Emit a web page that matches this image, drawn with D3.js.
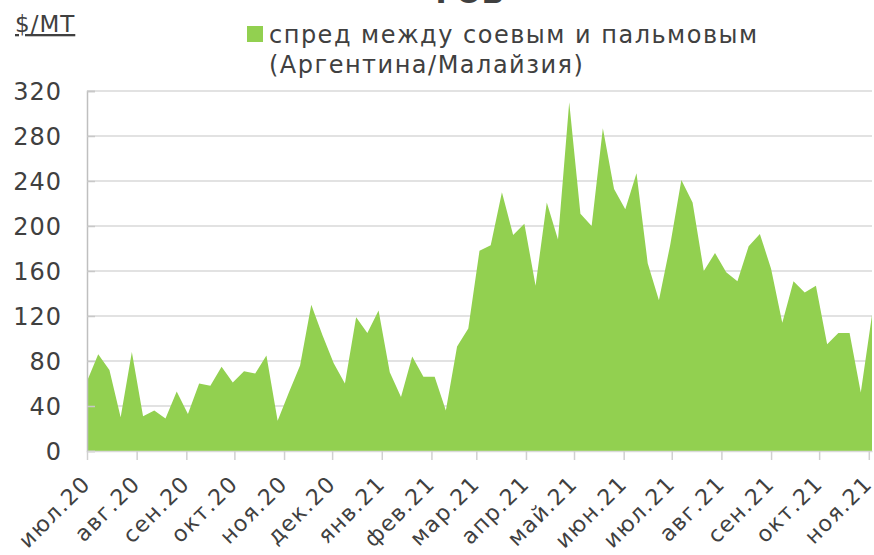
<!DOCTYPE html>
<html>
<head>
<meta charset="utf-8">
<script src="https://cdn.jsdelivr.net/npm/d3@7"></script>
<style>
  body { margin: 0; background: #fff; }
  text { font-family: 'DejaVu Sans', sans-serif; fill: #404040; }
</style>
</head>
<body>
<div id="chart"></div>
<script>
'use strict';

// weekly spread, $/MT, starting 1 Jul 2020
var startDate = '2020-07-01';
var spread = [
    62, 86, 72, 30, 88, 31, 36, 29, 53, 33,
    60, 58, 75, 61, 71, 69, 85, 27, 52, 76,
    130, 103, 78, 60, 119, 105, 125, 70, 48, 84,
    66, 66, 36, 93, 109, 178, 183, 230, 192, 202,
    147, 221, 188, 310, 211, 200, 287, 233, 215, 247,
    167, 134, 183, 241, 221, 160, 176, 159, 151, 182,
    193, 162, 114, 151, 141, 147, 95, 105, 105, 52,
    121
];
var monthLabels = ['июл.20', 'авг.20', 'сен.20', 'окт.20', 'ноя.20', 'дек.20',
    'янв.21', 'фев.21', 'мар.21', 'апр.21', 'май.21', 'июн.21', 'июл.21',
    'авг.21', 'сен.21', 'окт.21', 'ноя.21'];
var yTicks = [0, 40, 80, 120, 160, 200, 240, 280, 320];
var seriesName = ['спред между соевым и пальмовым', '(Аргентина/Малайзия)'];
var unitLabel = '$/МТ';
var titleText = 'FOB';

var width = 874,
    height = 555;

var margin = {top: 91, right: 2, bottom: 104, left: 87};

var svg = d3.select('#chart').append('svg')
    .attr('width', width)
    .attr('height', height);

var t0 = new Date(startDate + 'T00:00:00');
var data = spread.map(function(v, i) {
    return {date: d3.timeDay.offset(t0, i * 7), value: v};
});

var x = d3.scaleTime()
    .domain(d3.extent(data, function(d) { return d.date; }))
    .range([margin.left, width - margin.right]);

var y = d3.scaleLinear()
    .domain([0, 320])
    .range([height - margin.bottom, margin.top]);

// gridlines
svg.append('g')
    .selectAll('line')
    .data(yTicks)
    .enter()
    .append('line')
    .attr('x1', margin.left)
    .attr('x2', width - margin.right)
    .attr('y1', function(d) { return y(d); })
    .attr('y2', function(d) { return y(d); })
    .attr('stroke', '#d9d9d9')
    .attr('stroke-width', 1.5);

// area
var area = d3.area()
    .x(function(d) { return x(d.date); })
    .y0(y(0))
    .y1(function(d) { return y(d.value); });

svg.append('path')
    .datum(data)
    .attr('d', area)
    .attr('fill', '#92d050');

// y axis
var yAxis = svg.append('g')
    .attr('transform', 'translate(' + margin.left + ',0)')
    .call(d3.axisRight(y).tickValues(yTicks).tickSize(8).tickFormat(''));
yAxis.selectAll('line').attr('stroke', '#c8c8c8').attr('stroke-width', 1.5);
yAxis.select('.domain').attr('stroke', '#bfbfbf').attr('stroke-width', 1.5);

svg.append('g')
    .selectAll('text')
    .data(yTicks)
    .enter()
    .append('text')
    .attr('x', 62)
    .attr('y', function(d) { return y(d); })
    .attr('dy', '0.36em')
    .attr('text-anchor', 'end')
    .style('font-size', '24px')
    .style('letter-spacing', '1px')
    .text(function(d) { return d; });

// x axis
var monthTicks = d3.timeMonth.range(new Date(2020, 6, 1), new Date(2021, 11, 1));
var xAxis = svg.append('g')
    .attr('transform', 'translate(0,' + y(0) + ')')
    .call(d3.axisBottom(x).tickValues(monthTicks).tickSize(9).tickSizeOuter(0).tickFormat(''));
xAxis.selectAll('line').attr('stroke', '#d0d0d0').attr('stroke-width', 1.5);
xAxis.select('.domain').attr('stroke', '#d9d9d9').attr('stroke-width', 1.5);

svg.append('g')
    .selectAll('text')
    .data(monthTicks)
    .enter()
    .append('text')
    .attr('transform', function(d) {
        return 'translate(' + (x(d) + 5) + ',' + (y(0) + 34) + ') rotate(-45)';
    })
    .attr('text-anchor', 'end')
    .style('font-size', '22px')
    .style('letter-spacing', '1.5px')
    .text(function(d, i) { return monthLabels[i]; });

// unit label
svg.append('text')
    .attr('x', 15)
    .attr('y', 32)
    .style('font-size', '23px')
    .style('letter-spacing', '1px')
    .style('text-decoration', 'underline')
    .text(unitLabel);

// title (mostly cut off at top)
svg.append('text')
    .attr('x', 470)
    .attr('y', 3)
    .attr('text-anchor', 'middle')
    .style('font-size', '30px')
    .style('font-weight', 'bold')
    .text(titleText);

// legend
var legend = svg.append('g');
legend.append('rect')
    .attr('x', 247)
    .attr('y', 26)
    .attr('width', 16)
    .attr('height', 16)
    .attr('fill', '#92d050');
legend.selectAll('text')
    .data(seriesName)
    .enter()
    .append('text')
    .attr('x', 269)
    .attr('y', function(d, i) { return 43 + i * 30; })
    .style('font-size', '24px')
    .style('letter-spacing', '1.5px')
    .text(function(d) { return d; });
</script>
</body>
</html>
